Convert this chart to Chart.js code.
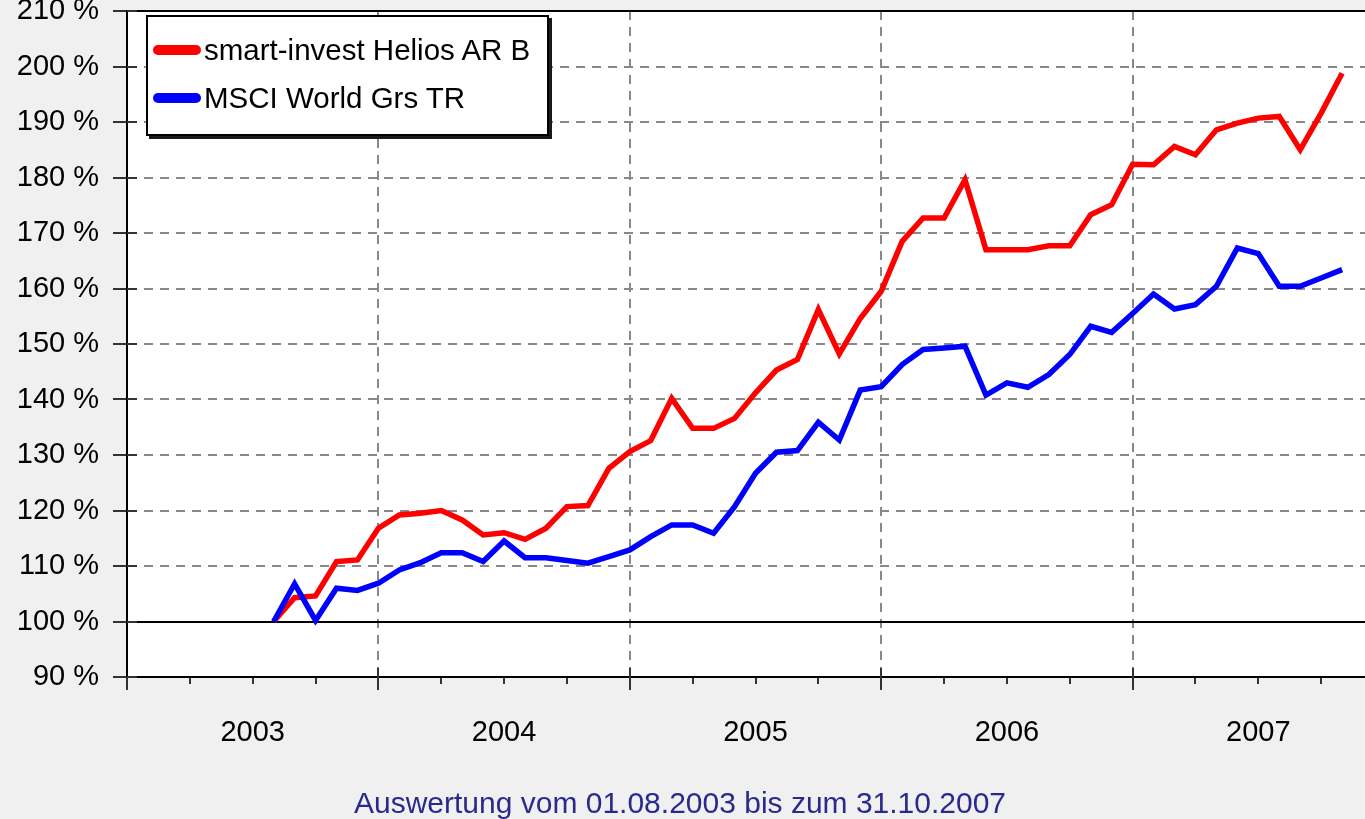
<!DOCTYPE html>
<html>
<head>
<meta charset="utf-8">
<script src="https://cdn.jsdelivr.net/npm/chart.js@4.4.1/dist/chart.umd.min.js"></script>
<style>
html,body{margin:0;padding:0;background:#f0f0f0;overflow:hidden;width:1365px;height:819px;font-family:"Liberation Sans",Arial,sans-serif;}
#wrap{position:absolute;left:0;top:-30px;width:1416px;height:849px;}
#legend{position:absolute;left:146px;top:15px;width:399px;height:117px;background:#fff;border:2px solid #000;box-shadow:3px 3px 0 #1a1a1a;z-index:2;}
.item{position:absolute;left:0;height:34px;line-height:34px;font-size:29.5px;color:#000;white-space:nowrap;}
.swatch{position:absolute;left:5px;top:12px;width:48px;height:10px;border-radius:5px;}
.label{position:absolute;left:56px;top:0;}
#caption{position:absolute;left:0;width:1360px;top:787px;text-align:center;font-size:30px;line-height:32px;color:#2a2a8c;z-index:2;}
</style>
</head>
<body>
<div id="wrap"><canvas id="c" width="1416" height="849"></canvas></div>
<div id="legend"></div>
<div id="caption">Auswertung vom 01.08.2003 bis zum 31.10.2007</div>
<script>
// ---- data ----
const months = [
 '2003-08','2003-09','2003-10','2003-11','2003-12',
 '2004-01','2004-02','2004-03','2004-04','2004-05','2004-06','2004-07','2004-08','2004-09','2004-10','2004-11','2004-12',
 '2005-01','2005-02','2005-03','2005-04','2005-05','2005-06','2005-07','2005-08','2005-09','2005-10','2005-11','2005-12',
 '2006-01','2006-02','2006-03','2006-04','2006-05','2006-06','2006-07','2006-08','2006-09','2006-10','2006-11','2006-12',
 '2007-01','2007-02','2007-03','2007-04','2007-05','2007-06','2007-07','2007-08','2007-09','2007-10','2007-11'
];
const helios = [
 100.0,104.3,104.6,110.8,111.1,
 116.8,119.2,119.5,120.0,118.3,115.6,116.0,114.8,116.8,120.7,120.9,127.6,
 130.6,132.6,140.2,134.8,134.8,136.6,141.2,145.3,147.2,156.2,148.2,154.6,
 159.5,168.5,172.7,172.7,179.6,167.0,167.0,167.0,167.7,167.7,173.3,175.1,
 182.4,182.3,185.6,184.1,188.6,189.8,190.7,191.0,185.0,191.6,198.8
];
const msci = [
 100.0,106.8,100.2,106.0,105.6,
 106.9,109.3,110.6,112.4,112.4,110.8,114.5,111.5,111.5,111.0,110.5,111.7,
 112.9,115.3,117.4,117.4,115.9,120.7,126.7,130.5,130.8,135.9,132.7,141.7,
 142.3,146.3,149.0,149.3,149.6,140.8,143.0,142.2,144.5,148.1,153.2,152.1,
 155.5,159.0,156.3,157.1,160.4,167.3,166.3,160.4,160.4,161.9,163.4
];
const seriesNames = ['smart-invest Helios AR B','MSCI World Grs TR'];
const seriesColors = ['#ff0000','#0000ff'];
const yTickValues = [90,100,110,120,130,140,150,160,170,180,190,200,210];
const yearLabels = ['2003','2004','2005','2006','2007'];
const baseYear = 2003;

// month index since Jan of baseYear
const monthIndex = s => { const [y,m] = s.split('-').map(Number); return (y-baseYear)*12 + (m-1); };
const toPoints = arr => arr.map((v,i)=>({x: monthIndex(months[i]), y: v}));
const xMax = yearLabels.length*12;
const xTickValues = [];
for (let v=0; v<=xMax; v+=3) xTickValues.push(v);

Chart.defaults.font.family = '"Liberation Sans", Arial, sans-serif';
Chart.defaults.color = '#000';

const deco = {
  id:'deco',
  beforeDraw(chart){
    const {ctx, chartArea:a} = chart;
    ctx.save(); ctx.fillStyle='#fff'; ctx.fillRect(a.left,a.top,a.right-a.left,a.bottom-a.top); ctx.restore();
  },
  beforeDatasetsDraw(chart){
    const {ctx, chartArea:a} = chart; const xs = chart.scales.x, ys = chart.scales.y;
    ctx.save(); ctx.strokeStyle='#333'; ctx.lineWidth=2;
    yTickValues.forEach(v=>{
      const y = Math.round(ys.getPixelForValue(v));
      ctx.beginPath(); ctx.moveTo(a.left,y); ctx.lineTo(a.left+10,y); ctx.stroke();
    });
    for (let v=12; v<xMax; v+=12){
      const x = Math.round(xs.getPixelForValue(v));
      ctx.beginPath(); ctx.moveTo(x,a.bottom-9); ctx.lineTo(x,a.bottom); ctx.stroke();
    }
    ctx.restore();
  },
  afterDraw(chart){
    const {ctx, chartArea:a} = chart; const xs = chart.scales.x;
    ctx.save(); ctx.strokeStyle='#333'; ctx.lineWidth=2;
    for (let v=0; v<=xMax; v+=12){
      const x = Math.round(xs.getPixelForValue(v));
      ctx.beginPath(); ctx.moveTo(x,a.bottom); ctx.lineTo(x,a.bottom+13); ctx.stroke();
    }
    ctx.restore();
  }
};

new Chart(document.getElementById('c'), {
  type:'line',
  data:{ datasets: seriesNames.map((n,i)=>({
    label:n, data: toPoints(i===0?helios:msci), borderColor:seriesColors[i], backgroundColor:seriesColors[i],
    borderWidth:5.5, pointRadius:0, tension:0, fill:false, borderJoinStyle:'miter'
  })).reverse() },
  options:{
    responsive:false, animation:false, devicePixelRatio:1,
    layout:{padding:{top:41,right:19,bottom:42,left:0}},
    plugins:{legend:{display:false}, tooltip:{enabled:false}},
    scales:{
      x:{type:'linear', min:0, max:xMax,
        afterBuildTicks: s => { s.ticks = xTickValues.map(v=>({value:v})); },
        afterFit: s => { s.height = 100; },
        ticks:{autoSkip:false, maxRotation:0, padding:32, font:{size:29},
          callback: v => (v%12===6 ? yearLabels[(v-6)/12] : '')},
        grid:{ color: c => (c.tick && c.tick.value%12===0 && c.tick.value>0 && c.tick.value<xMax) ? '#888' : 'rgba(0,0,0,0)',
               lineWidth:2, tickLength:7, tickColor:'#333', tickWidth:2 },
        border:{display:true, color:'#000', width:2, dash:[9,7]}
      },
      y:{type:'linear', min:90, max:210,
        afterBuildTicks: s => { s.ticks = yTickValues.map(v=>({value:v})); },
        afterFit: s => { s.width = 127; },
        ticks:{padding:14, font:{size:29}, callback: v => v + ' %'},
        grid:{ color: c => { const v=c.tick&&c.tick.value; return (v===100||v===210) ? '#000' : (v===90 ? 'rgba(0,0,0,0)' : '#888'); },
               lineWidth:2, tickLength:14, tickColor:'#333', tickWidth:2 },
        border:{display:true, color:'#000', width:2,
               dash: c => { const v=c.tick&&c.tick.value; return (v===100||v===210) ? [] : [9,7]; }}
      }
    }
  },
  plugins:[deco]
});

// HTML legend from series names
const lg = document.getElementById('legend');
seriesNames.forEach((n,i)=>{
  const d = document.createElement('div'); d.className='item'; d.style.top = (16 + i*48) + 'px';
  d.innerHTML = '<span class="swatch" style="background:'+seriesColors[i]+'"></span><span class="label"></span>';
  d.querySelector('.label').textContent = n;
  lg.appendChild(d);
});
</script>
</body>
</html>
